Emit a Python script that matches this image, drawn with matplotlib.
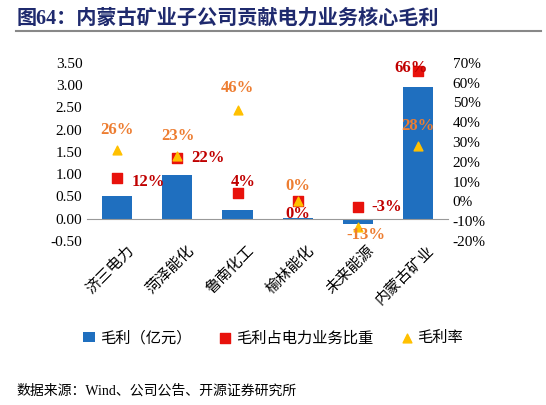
import matplotlib.pyplot as plt
import matplotlib as mpl

mpl.rcParams['font.family'] = ['Liberation Serif', 'Noto Sans CJK SC']

companies = ['济三电力', '菏泽能化', '鲁南化工', '榆林能化', '未来能源', '内蒙古矿业']
profit = [0.52, 0.97, 0.19, 0.01, -0.12, 2.95]
share = [12, 22, 4, 0, -3, 66]
margin = [26, 23, 46, 0, -13, 28]

fig = plt.figure(figsize=(5.46, 4.05), dpi=100)
fig.text(0.03, 0.955, '图64：内蒙古矿业子公司贡献电力业务核心毛利', fontsize=14.5,
         fontweight='bold', color='#1f2a6e', va='center')
fig.add_artist(plt.Line2D([0.03, 0.99], [0.923, 0.923], color='#888888', lw=1.5))
fig.text(0.03, 0.035, '数据来源：Wind、公司公告、开源证券研究所', fontsize=10, va='center')

ax = fig.add_axes([0.16, 0.405, 0.66, 0.44])
x = range(len(companies))
ax.bar(x, profit, width=0.5, color='#1f6fbf', label='毛利（亿元）')
ax.set_ylim(-0.5, 3.5)
ax.set_yticks([i * 0.5 - 0.5 for i in range(9)])
ax.set_yticklabels([f'{i * 0.5 - 0.5:.2f}' for i in range(9)], fontsize=11)
ax.set_xlim(-0.5, 5.5)
ax.set_xticks([])
for i, name in enumerate(companies):
    ax.text(i + 0.15, -0.55, name, rotation=45, ha='right', va='top',
            rotation_mode='anchor', fontsize=11)
for s in ['top', 'right', 'left']:
    ax.spines[s].set_visible(False)
ax.spines['bottom'].set_position(('data', 0))
ax.spines['bottom'].set_color('#999999')
ax.tick_params(axis='y', length=0)

ax2 = ax.twinx()
ax2.set_ylim(-20, 70)
ax2.set_yticks(range(-20, 71, 10))
ax2.set_yticklabels([f'{v}%' for v in range(-20, 71, 10)], fontsize=11)
ax2.tick_params(axis='y', length=0)
for s in ax2.spines.values():
    s.set_visible(False)
ax2.scatter(x, share, marker='s', s=45, color='#e8120c', zorder=3, label='毛利占电力业务比重')
ax2.scatter(x, margin, marker='^', s=40, color='#ffc000', zorder=3, label='毛利率')

share_off = [(10, -3), (10, 0), (4, 8), (0, -9), (10, 0), (-5, 2)]
share_ha = ['left', 'left', 'center', 'center', 'left', 'center']
for i, v in enumerate(share):
    dx, dy = share_off[i]
    ax2.annotate(f'{v}%', (i, v), xytext=(dx, dy), textcoords='offset points',
                 ha=share_ha[i], va='center', color='#c00000', fontsize=12, fontweight='bold')
margin_off = [(0, 14), (0, 14), (0, 16), (0, 11), (6, -6), (0, 14)]
for i, v in enumerate(margin):
    dx, dy = margin_off[i]
    ax2.annotate(f'{v}%', (i, v), xytext=(dx, dy), textcoords='offset points',
                 ha='center', va='center', color='#ed7d31', fontsize=12, fontweight='bold')

h1, l1 = ax.get_legend_handles_labels()
h2, l2 = ax2.get_legend_handles_labels()
fig.legend(h1 + h2, l1 + l2, loc='center', bbox_to_anchor=(0.5, 0.165), ncol=3,
           frameon=False, fontsize=11, handlelength=0.8, handletextpad=0.3, columnspacing=1.8)

fig.savefig('out.png')
